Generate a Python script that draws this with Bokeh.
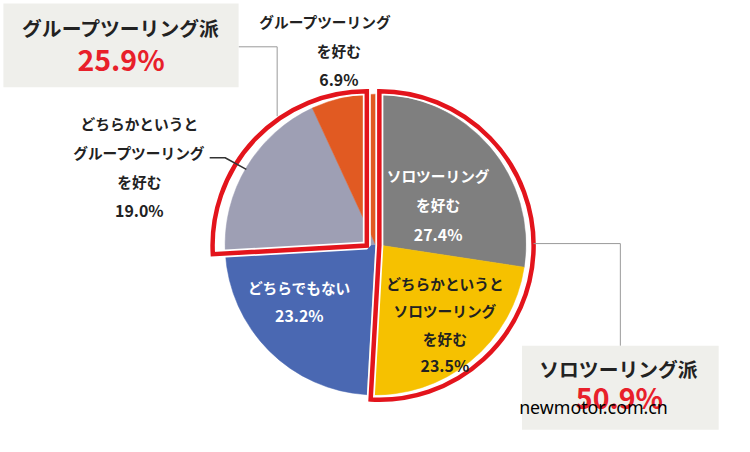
import numpy as np
from bokeh.plotting import figure
from bokeh.models import Range1d
from bokeh.core.properties import value
from bokeh.embed import file_html
from bokeh.resources import INLINE

# ---- data ----
slice_names = ["ソロツーリングを好む", "どちらかというとソロツーリングを好む", "どちらでもない",
               "どちらかというとグループツーリングを好む", "グループツーリングを好む"]
slice_lines = [["ソロツーリング", "を好む"],
               ["どちらかというと", "ソロツーリング", "を好む"],
               ["どちらでもない"],
               ["どちらかというと", "グループツーリング", "を好む"],
               ["グループツーリング", "を好む"]]
values = [27.4, 23.5, 23.2, 19.0, 6.9]
colors = ["#7f7f7f", "#f6c100", "#4a68b2", "#9e9fb4", "#e15a22"]
text_colors = ["white", "#222222", "white", "#222222", "#222222"]
solo_members = [0, 1]
group_members = [3, 4]
solo_title = "ソロツーリング派"
group_title = "グループツーリング派"
watermark = "newmotor.com.cn"

S = 436 / 452
W = round(750 * S)
H = 436
FONT = value("Noto Sans CJK JP")
RED = "#e3141c"


def fs(px):
    return f"{px * S:.1f}px"


def Y(py):
    return 452 - py


p = figure(width=W, height=H, x_range=Range1d(0, 750), y_range=Range1d(0, 452),
           output_backend="svg", toolbar_location=None, min_border=0)
p.axis.visible = False
p.grid.visible = False
p.outline_line_color = None
p.background_fill_color = "white"

vals = np.array(values)
cum = np.concatenate([[0], np.cumsum(vals)]) / vals.sum()
starts = np.pi / 2 - cum[1:] * 2 * np.pi
ends = np.pi / 2 - cum[:-1] * 2 * np.pi

cx, cy, R = 389, Y(253), 156
p.wedge(x=cx, y=cy, radius=R, start_angle=list(starts), end_angle=list(ends),
        fill_color=colors, line_color=colors, line_width=0.5)


def outline(members, ox, oy, r):
    a0 = np.pi / 2 - cum[max(members) + 1] * 2 * np.pi
    a1 = np.pi / 2 - cum[min(members)] * 2 * np.pi
    p.wedge(x=ox, y=oy, radius=r, start_angle=a0, end_angle=a1,
            fill_color=None, line_color="white", line_width=8)
    p.wedge(x=ox, y=oy, radius=r, start_angle=a0, end_angle=a1,
            fill_color=None, line_color=RED, line_width=4.5, line_join="miter")


outline(group_members, 380, Y(254), 160)
outline(solo_members, 393, Y(254), 160)

# connector lines
p.line([247, 287, 287], [Y(48), Y(48), Y(120)], line_color="#9a9a9a", line_width=1)
p.line([553, 643, 643], [Y(252), Y(252), Y(358)], line_color="#9a9a9a", line_width=1)
p.line([217, 233, 255], [Y(163), Y(163), Y(175)], line_color="#333333", line_width=1.5)

# summary boxes
p.quad(left=[3, 541], right=[247, 745], top=[Y(3), Y(358)], bottom=[Y(90), Y(445)],
       fill_color="#efefeb", line_color=None)

group_total = sum(values[i] for i in group_members)
solo_total = sum(values[i] for i in solo_members)
p.text(x=[125, 641], y=[Y(28), Y(382)], text=[group_title, solo_title],
       text_font=FONT, text_font_style="bold", text_font_size=fs(20.5),
       text_color="#222222", text_align="center", text_baseline="middle")
p.text(x=[125, 642], y=[Y(60), Y(411)], text=[f"{group_total:.1f}%", f"{solo_total:.1f}%"],
       text_font=FONT, text_font_style="bold", text_font_size=fs(29.5),
       text_color="#e8202a", text_align="center", text_baseline="middle")

# slice labels: (x centre, first-line y, line step)
label_pos = [(454, 181, 31), (461, 293, 28.5), (310, 298, 29), (144, 128, 30), (345, 22, 30)]
for i, (lx, ly, step) in enumerate(label_pos):
    lines = slice_lines[i]
    pct = f"{values[i]:.1f}%"
    xs = [lx] * len(lines)
    px = lx
    if i == 4:
        xs = [337] + [351] * (len(lines) - 1)
        px = 351
    ys = [Y(ly + k * step) for k in range(len(lines))]
    tc = text_colors[i]
    p.text(x=xs, y=ys, text=lines, text_font=FONT, text_font_style="bold",
           text_font_size=fs(15.2), text_color=tc,
           text_align="center", text_baseline="middle")
    p.text(x=[px], y=[Y(ly + len(lines) * step)], text=[pct], text_font=FONT,
           text_font_style="bold", text_font_size=fs(16.5), text_color=tc,
           text_align="center", text_baseline="middle")

# watermark
p.text(x=[538], y=[Y(421)], text=[watermark], text_font=value("Noto Sans"),
       text_font_size=fs(18.5), text_color="black", text_align="left", text_baseline="middle")

open("out.html", "w").write(file_html(p, INLINE))
